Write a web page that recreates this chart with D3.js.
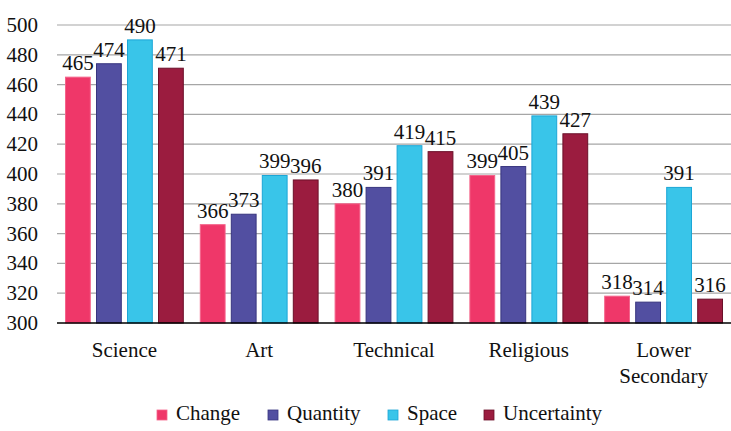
<!DOCTYPE html>
<html><head><meta charset="utf-8"><script src="https://cdn.jsdelivr.net/npm/d3@7"></script>
<style>
  body { margin: 0; background: #fff; }
  svg text { font-family: serif; }
</style>
</head><body>
<script>
// data
var categories = ["Science", "Art", "Technical", "Religious", "Lower Secondary"];
var seriesNames = ["Change", "Quantity", "Space", "Uncertainty"];
var change      = [465, 366, 380, 399, 318];
var quantity    = [474, 373, 391, 405, 314];
var space       = [490, 399, 419, 439, 391];
var uncertainty = [471, 396, 415, 427, 316];
var yTicks = [300, 320, 340, 360, 380, 400, 420, 440, 460, 480, 500];

var fills   = ["#ef3769", "#524fa1", "#39c5e9", "#9b1c3f"];
var strokes = ["#f4648b", "#38357f", "#1ca6d6", "#6b1029"];

var W = 731, H = 431;
var margin = {top: 25, right: 0, bottom: 108, left: 57},
    width = W - margin.left - margin.right,
    height = H - margin.top - margin.bottom;

var root = d3.select("body").append("svg")
    .attr("width", W)
    .attr("height", H)
    .attr("font-family", "Times New Roman");

var svg = root.append("g")
    .attr("transform", "translate(" + margin.left + "," + margin.top + ")");

var values = [change, quantity, space, uncertainty];

var x0 = d3.scaleBand()
    .domain(categories)
    .range([0, width])
    .paddingInner(0.08)
    .paddingOuter(0.04);

var x1 = d3.scaleBand()
    .domain(seriesNames)
    .range([0, x0.bandwidth()])
    .paddingInner(0.2)
    .paddingOuter(0.1);

var y = d3.scaleLinear()
    .domain([300, 500])
    .range([height, 0]);

// gridlines
svg.append("g")
    .selectAll("line")
    .data(yTicks.slice(1))
    .enter()
    .append("line")
    .attr("x1", 0)
    .attr("x2", width)
    .attr("y1", function(d) { return y(d) })
    .attr("y2", function(d) { return y(d) })
    .attr("stroke", "#a6a6a6")
    .attr("stroke-width", 1.2);

// y labels
svg.append("g")
    .selectAll("text")
    .data(yTicks)
    .enter()
    .append("text")
    .attr("x", -19)
    .attr("y", function(d) { return y(d) + 7 })
    .attr("text-anchor", "end")
    .attr("font-size", 21)
    .attr("fill", "#111")
    .text(function(d) { return d });

// bars
var groups = svg.selectAll(".grp")
    .data(categories)
    .enter()
    .append("g")
    .attr("class", "grp")
    .attr("transform", function(d) { return "translate(" + x0(d) + ",0)" });

groups.selectAll("rect")
    .data(function(c, i) {
        return seriesNames.map(function(s, j) { return {s: s, j: j, v: values[j][i]} });
    })
    .enter()
    .append("rect")
    .attr("x", function(d) { return x1(d.s) })
    .attr("y", function(d) { return y(d.v) })
    .attr("width", x1.bandwidth())
    .attr("height", function(d) { return height - y(d.v) })
    .attr("fill", function(d) { return fills[d.j] })
    .attr("stroke", function(d) { return strokes[d.j] })
    .attr("stroke-width", 1);

groups.selectAll(".lbl")
    .data(function(c, i) {
        return seriesNames.map(function(s, j) { return {s: s, j: j, v: values[j][i]} });
    })
    .enter()
    .append("text")
    .attr("class", "lbl")
    .attr("x", function(d) { return x1(d.s) + x1.bandwidth() / 2 })
    .attr("y", function(d) { return y(d.v) - 7 })
    .attr("text-anchor", "middle")
    .attr("font-size", 21)
    .attr("fill", "#111")
    .text(function(d) { return d.v });

// x axis line
svg.append("line")
    .attr("x1", 0)
    .attr("x2", width)
    .attr("y1", height)
    .attr("y2", height)
    .attr("stroke", "#000")
    .attr("stroke-width", 1.5);

// category labels, "Lower Secondary" on two lines
svg.append("g")
    .selectAll("text")
    .data(categories)
    .enter()
    .append("text")
    .attr("x", function(d) { return x0(d) + x0.bandwidth() / 2 })
    .attr("y", height + 34)
    .attr("text-anchor", "middle")
    .attr("font-size", 21)
    .attr("fill", "#111")
    .each(function(d) {
        var t = d3.select(this);
        d.split(" ").forEach(function(w, k) {
            t.append("tspan")
                .attr("x", x0(d) + x0.bandwidth() / 2)
                .attr("dy", k == 0 ? 0 : 26)
                .text(w);
        });
    });

// legend
var legendX = [157, 268, 388, 484];
var li = root.append("g")
    .selectAll("g")
    .data(seriesNames)
    .enter()
    .append("g")
    .attr("transform", function(d, i) { return "translate(" + legendX[i] + ",410)" });

li.append("rect")
    .attr("width", 10)
    .attr("height", 10)
    .attr("fill", function(d, i) { return fills[i] })
    .attr("stroke", function(d, i) { return strokes[i] })
    .attr("stroke-width", 0.8);

li.append("text")
    .attr("x", 19)
    .attr("y", 10)
    .attr("font-size", 21)
    .attr("fill", "#111")
    .text(function(d) { return d });
</script>
</body></html>
